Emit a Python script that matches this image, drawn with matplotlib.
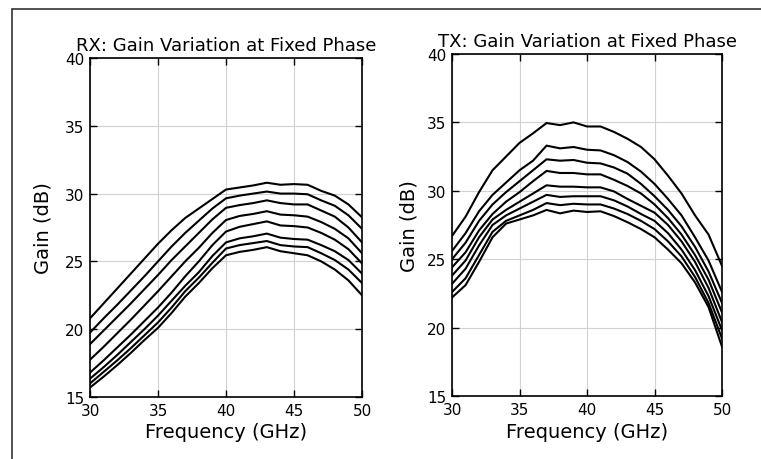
import matplotlib

matplotlib.use("Agg")
import matplotlib.pyplot as plt
from matplotlib.patches import Rectangle

freq = [30, 31, 32, 33, 34, 35, 36, 37, 38, 39, 40,
        41, 42, 43, 44, 45, 46, 47, 48, 49, 50]

# RX gain curves (dB), one per gain setting, top to bottom
rx_gain = [
    [20.8, 21.9, 23.0, 24.1, 25.2, 26.3, 27.3, 28.2, 28.9, 29.6, 30.3,
     30.45, 30.6, 30.8, 30.65, 30.7, 30.65, 30.2, 29.85, 29.2, 28.25],
    [19.75, 20.8, 21.8, 22.85, 23.9, 25.0, 26.1, 27.1, 28.0, 28.9, 29.65,
     29.85, 30.0, 30.15, 30.0, 30.0, 29.95, 29.5, 29.1, 28.4, 27.4],
    [18.9, 19.9, 20.9, 21.9, 22.95, 24.0, 25.1, 26.1, 27.1, 28.1, 28.95,
     29.15, 29.3, 29.5, 29.3, 29.2, 29.2, 28.75, 28.3, 27.5, 26.4],
    [17.75, 18.7, 19.7, 20.7, 21.75, 22.8, 23.9, 25.0, 26.0, 27.1, 28.05,
     28.35, 28.5, 28.7, 28.45, 28.4, 28.3, 27.9, 27.4, 26.7, 25.6],
    [16.8, 17.7, 18.65, 19.6, 20.6, 21.6, 22.7, 23.9, 25.0, 26.2, 27.2,
     27.55, 27.75, 27.95, 27.65, 27.6, 27.5, 27.1, 26.6, 25.9, 24.85],
    [16.35, 17.2, 18.1, 19.05, 20.0, 21.0, 22.1, 23.2, 24.2, 25.4, 26.4,
     26.7, 26.85, 27.05, 26.75, 26.65, 26.6, 26.2, 25.75, 25.1, 24.1],
    [16.0, 16.85, 17.7, 18.6, 19.55, 20.5, 21.6, 22.8, 23.8, 24.9, 25.95,
     26.2, 26.35, 26.5, 26.2, 26.1, 26.05, 25.6, 25.1, 24.4, 23.4],
    [15.7, 16.5, 17.35, 18.25, 19.2, 20.1, 21.2, 22.4, 23.4, 24.5, 25.45,
     25.7, 25.85, 26.05, 25.75, 25.6, 25.45, 25.0, 24.4, 23.6, 22.5],
]

# TX gain curves (dB)
tx_gain = [
    [26.7, 28.1, 29.9, 31.5, 32.5, 33.5, 34.2, 34.95, 34.8, 35.0, 34.7,
     34.7, 34.3, 33.8, 33.2, 32.3, 31.1, 29.8, 28.2, 26.8, 24.5],
    [25.6, 26.9, 28.5, 29.7, 30.6, 31.5, 32.2, 33.3, 33.1, 33.2, 33.0,
     32.95, 32.6, 32.1, 31.4, 30.5, 29.4, 28.2, 26.6, 24.9, 22.6],
    [25.0, 26.2, 27.8, 29.0, 29.9, 30.7, 31.5, 32.3, 32.2, 32.25, 32.05,
     32.0, 31.7, 31.25, 30.5, 29.6, 28.6, 27.4, 25.9, 24.1, 21.8],
    [24.4, 25.5, 27.1, 28.3, 29.2, 29.9, 30.7, 31.45, 31.3, 31.3, 31.2,
     31.2, 30.8, 30.35, 29.8, 29.0, 28.0, 26.8, 25.3, 23.5, 21.1],
    [23.8, 24.9, 26.6, 27.9, 28.6, 29.2, 29.8, 30.4, 30.3, 30.3, 30.25,
     30.25, 29.95, 29.4, 28.9, 28.4, 27.5, 26.3, 24.8, 22.9, 20.4],
    [23.2, 24.3, 26.0, 27.5, 28.2, 28.7, 29.2, 29.7, 29.55, 29.6, 29.6,
     29.6, 29.3, 28.85, 28.3, 27.8, 26.9, 25.7, 24.2, 22.3, 19.8],
    [22.6, 23.6, 25.3, 27.0, 27.8, 28.2, 28.6, 29.1, 28.95, 29.05, 29.0,
     29.0, 28.7, 28.3, 27.8, 27.2, 26.3, 25.2, 23.7, 21.8, 19.2],
    [22.2, 23.1, 24.8, 26.6, 27.6, 27.9, 28.2, 28.6, 28.35, 28.55, 28.45,
     28.5, 28.15, 27.7, 27.2, 26.6, 25.7, 24.7, 23.3, 21.5, 18.6],
]

titles = ["RX: Gain Variation at Fixed Phase", "TX: Gain Variation at Fixed Phase"]


def gain_panel(ax, curves, title, ylabel_x):
    for g in curves:
        ax.plot(freq, g, c="black", lw=1.5)
    ax.set_xlim(30, 50)
    ax.set_ylim(15, 40)
    ax.set_xticks([30, 35, 40, 45, 50])
    ax.set_yticks([15, 20, 25, 30, 35, 40])
    ax.grid(True, color="0.82", lw=0.8)
    ax.set_axisbelow(True)
    ax.tick_params(direction="in", top=True, right=True, length=5,
                   width=1, labelsize=11, pad=4)
    for s in ax.spines.values():
        s.set_linewidth(1.2)
    ax.set_title(title, fontsize=13, pad=6)
    ax.set_xlabel("Frequency (GHz)", fontsize=14)
    ax.set_ylabel("Gain (dB)", fontsize=14)
    ax.xaxis.set_label_coords(0.5, -0.103)
    ax.xaxis.label.set_va("center")
    ax.yaxis.set_label_coords(ylabel_x, 0.5)
    ax.yaxis.label.set_va("center")


fig = plt.figure(figsize=(7.61, 4.60), dpi=100)
ax1 = fig.add_axes([0.1183, 0.1348, 0.3574, 0.7370])
ax2 = fig.add_axes([0.5940, 0.1370, 0.3548, 0.7435])
gain_panel(ax1, rx_gain, titles[0], -0.173)
gain_panel(ax2, tx_gain, titles[1], -0.159)

# frame around the figure, only top and left edges fall inside the image
fig.patches.append(Rectangle((12 / 761, -0.2), 1.2, 0.2 + 1 - 10 / 460,
                             transform=fig.transFigure, fill=False,
                             ec="0.2", lw=1.2))

fig.savefig("out.png", dpi=100)
